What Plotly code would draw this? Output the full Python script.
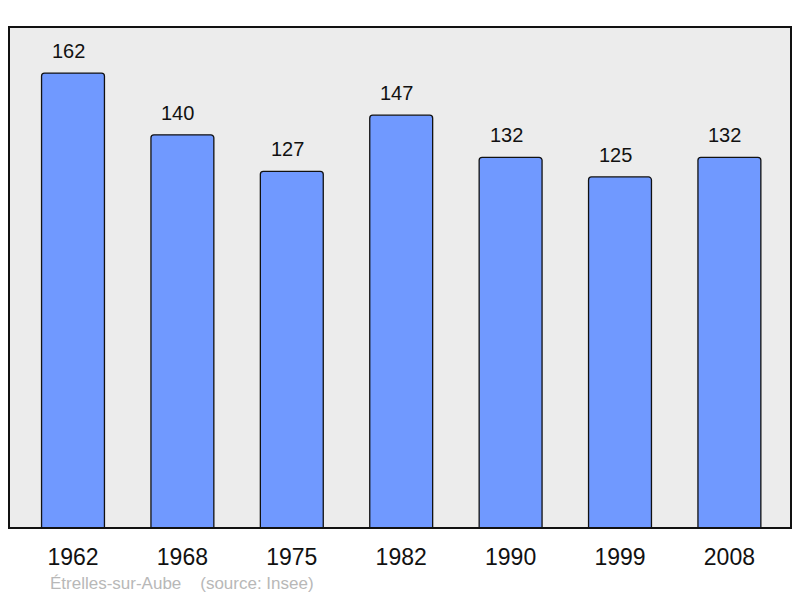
import plotly.graph_objects as go

years = ["1962", "1968", "1975", "1982", "1990", "1999", "2008"]
population = [162, 140, 127, 147, 132, 125, 132]
caption = "Étrelles-sur-Aube    (source: Insee)"

FONT = "Liberation Sans, Arial, sans-serif"

fig = go.Figure()
fig.add_trace(go.Bar(
    x=list(range(len(years))), y=population,
    width=0.575,
    marker=dict(color="#7099ff", line=dict(color="#111111", width=1.3), cornerradius=3),
    hoverinfo="skip",
))

for i, v in enumerate(population):
    fig.add_annotation(x=i, y=v, text=str(v), showarrow=False,
                       yanchor="bottom", yshift=9, xshift=-4.5,
                       font=dict(family=FONT, size=20, color="#111111"))

fig.add_annotation(xref="paper", yref="paper", x=0.0505, y=-0.11, xanchor="left", yanchor="middle",
                   text=caption, showarrow=False,
                   font=dict(family=FONT, size=17, color="#b8b8b8"))

fig.add_shape(type="rect", xref="paper", yref="paper", x0=0, y0=0, x1=1, y1=1,
              line=dict(color="#111111", width=2), layer="above")

fig.update_layout(
    width=800, height=598,
    margin=dict(l=9, r=9, t=27, b=70),
    paper_bgcolor="white", plot_bgcolor="#ececec",
    showlegend=False,
    xaxis=dict(range=[-0.585, 6.563], showgrid=False, zeroline=False,
               tickmode="array", tickvals=list(range(len(years))), ticktext=years,
               ticks="outside", ticklen=8, tickcolor="rgba(0,0,0,0)",
               tickfont=dict(family=FONT, size=23, color="#111111")),
    yaxis=dict(range=[0, 178.4], showgrid=False, zeroline=False, showticklabels=False, ticks=""),
)

fig.write_html("out.html", config={"displayModeBar": False},
               post_script="document.body.style.margin='0';document.body.style.overflow='hidden';")
